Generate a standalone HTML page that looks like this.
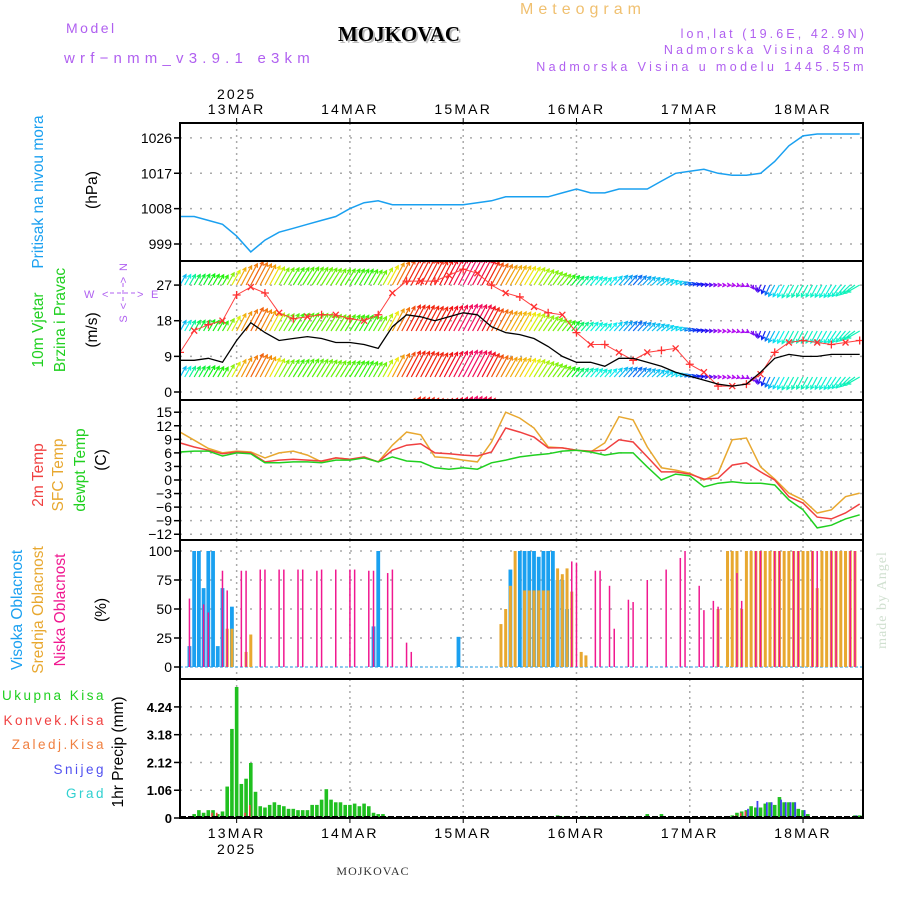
<!DOCTYPE html>
<html><head><meta charset="utf-8"><style>
body{margin:0;background:#fff}
svg{display:block;font-family:"Liberation Sans",sans-serif}
</style></head><body>
<svg id="c" width="900" height="900" viewBox="0 0 900 900" xmlns="http://www.w3.org/2000/svg">
<defs>
<clipPath id="clipAll"><rect x="181" y="123" width="681" height="695"/></clipPath>
<clipPath id="clipWind"><rect x="181" y="262" width="681" height="137"/></clipPath>
</defs>
<g>
<text x="66" y="33" fill="#b060f0" font-size="14" letter-spacing="2.5">Model</text>
<text x="64" y="63" fill="#b060f0" font-size="15" letter-spacing="5.2">wrf−nmm_v3.9.1 e3km</text>
<text x="401" y="43" fill="#bbb" font-size="21" font-weight="bold" font-family="Liberation Serif,serif" text-anchor="middle">MOJKOVAC</text>
<text x="399" y="41" fill="#000" font-size="21" font-weight="bold" font-family="Liberation Serif,serif" text-anchor="middle">MOJKOVAC</text>
<text x="583" y="14" fill="#f0c070" font-size="16" letter-spacing="5" text-anchor="middle">Meteogram</text>
<text x="867" y="38" fill="#b060f0" font-size="12.5" letter-spacing="3.1" text-anchor="end">lon,lat (19.6E, 42.9N)</text>
<text x="867" y="54" fill="#b060f0" font-size="12.5" letter-spacing="3.2" text-anchor="end">Nadmorska Visina 848m</text>
<text x="867" y="71" fill="#b060f0" font-size="12.5" letter-spacing="3.4" text-anchor="end">Nadmorska Visina u modelu 1445.55m</text>
</g>
<g font-size="15.5">
<text transform="translate(43,192) rotate(-90)" fill="#1aa0f0" text-anchor="middle">Pritisak na nivou mora</text>
<text transform="translate(97,190) rotate(-90)" fill="#000" text-anchor="middle">(hPa)</text>
<text transform="translate(43,330) rotate(-90)" fill="#20d020" text-anchor="middle">10m Vjetar</text>
<text transform="translate(65,320) rotate(-90)" fill="#20d020" text-anchor="middle">Brzina i Pravac</text>
<text transform="translate(97,330) rotate(-90)" fill="#000" text-anchor="middle">(m/s)</text>
<g fill="#b060f0" font-size="11">
<text x="84" y="298">W</text><text x="151" y="298">E</text>
<text x="102" y="298">&lt;</text><text x="137" y="298">&gt;</text>
<text transform="translate(127,267) rotate(-90)" text-anchor="middle">N</text>
<text transform="translate(127,280) rotate(-90)" text-anchor="middle">&gt;</text>
<text transform="translate(127,306) rotate(-90)" text-anchor="middle">&lt;</text>
<text transform="translate(127,319) rotate(-90)" text-anchor="middle">S</text>
<line x1="123" y1="283" x2="123" y2="302" stroke="#b060f0" stroke-dasharray="4,3"/>
<line x1="110" y1="293" x2="136" y2="293" stroke="#b060f0" stroke-dasharray="4,3"/>
</g>
<text transform="translate(43,475) rotate(-90)" fill="#f04040" text-anchor="middle">2m Temp</text>
<text transform="translate(63,475) rotate(-90)" fill="#e8a830" text-anchor="middle">SFC Temp</text>
<text transform="translate(85,470) rotate(-90)" fill="#20d020" text-anchor="middle">dewpt Temp</text>
<text transform="translate(106,460) rotate(-90)" fill="#000" text-anchor="middle">(C)</text>
<text transform="translate(22,610) rotate(-90)" fill="#1aa0f0" text-anchor="middle">Visoka Oblacnost</text>
<text transform="translate(43,610) rotate(-90)" fill="#e8a830" text-anchor="middle">Srednja Oblacnost</text>
<text transform="translate(65,610) rotate(-90)" fill="#f01890" text-anchor="middle">Niska Oblacnost</text>
<text transform="translate(106,610) rotate(-90)" fill="#000" text-anchor="middle">(%)</text>
<g font-size="13.5" letter-spacing="2.5" text-anchor="end">
<text x="106" y="700" fill="#20d020">Ukupna Kisa</text>
<text x="106" y="725" fill="#f04040">Konvek.Kisa</text>
<text x="106" y="749" fill="#f08040">Zaledj.Kisa</text>
<text x="106" y="774" fill="#5050f0">Snijeg</text>
<text x="106" y="798" fill="#30d0d0">Grad</text>
</g>
<text transform="translate(123,752) rotate(-90)" fill="#000" text-anchor="middle">1hr Precip (mm)</text>
<text transform="translate(886,600) rotate(-90)" fill="#d0e0d0" font-size="14" font-family="Liberation Serif,serif" text-anchor="middle" letter-spacing="1">made by Angel</text>
<text x="373" y="875" fill="#333" font-size="12" font-family="Liberation Serif,serif" text-anchor="middle" letter-spacing="1">MOJKOVAC</text>
</g>
<g id="grid"></g>
<g id="marks" clip-path="url(#clipAll)"></g>
<g id="frames"></g>
</svg>
<script>
// hours from 12 MAR 12Z, every 3h
const hours3 = [0,3,6,9,12,15,18,21,24,27,30,33,36,39,42,45,48,51,54,57,60,63,66,69,72,75,78,81,84,87,90,93,96,99,102,105,108,111,114,117,120,123,126,129,132,135,138,141,144];
const pressure = [1006,1006,1005,1004,1001,997,1000,1002,1003,1004,1005,1006,1008,1009.5,1010,1009,1009,1009,1009,1009,1009,1009.5,1010,1011,1011,1011,1011,1012,1013,1012,1012,1013,1013,1013,1015,1017,1017.5,1018,1017,1016.5,1016.5,1017,1020,1024,1026.5,1027,1027,1027,1027];
const windSpeed = [8,8,8.5,7.5,13,17.5,15,13,13.5,14,13.5,12.5,12.5,12,11,16.5,19.5,19,18,19,20,19.5,16.5,15,14.5,13.5,11.5,9,7.5,7.5,6.5,8.5,8.5,7.5,6.5,5,4,3,2,1.5,2,5,8.5,9.5,9,9,9.5,9.5,9.5];
const windGust = [10,15.5,17,18,24.5,26.5,25,20,18.5,19,19.5,19.5,18.5,18,19.5,25,28,28,28,29.5,31,30,27,25,24,21.5,20,19.5,15,12,12,10,8,10,10.5,11,7,5,1.5,1.5,2,4.5,10,12.5,13,12.5,12,12.5,13];
const windDir = [60,60,60,60,62,62,62,60,58,58,58,58,58,60,60,62,62,62,62,62,62,62,62,60,60,58,55,52,50,50,48,48,48,45,40,30,15,5,0,-10,-30,-110,-118,-118,-118,-118,-120,-130,-150];
const temp2m = [8.2,7.3,6.6,5.8,6.2,6,4,4.4,4.6,4.4,4.2,4.9,4.6,5.1,4,6.6,7.7,8,6,5.8,5.5,5.3,6.2,11.5,10.6,9.5,7.1,7.1,6.6,6.4,6.6,8.9,8.4,5.1,1.8,1.8,1.3,0.2,0.4,3.3,3.8,1.8,0,-3.7,-5.1,-8.2,-8.6,-7.3,-5.3];
const tempSfc = [10.6,8.8,7,6,6.4,6.2,4.9,6,6.4,5.5,4,4.9,4.6,4.9,4,7.7,10.6,10,5.1,4.9,4.4,4,8.4,15,13.7,11.5,7.3,7.1,6.6,6.2,8.2,14,13.3,7.3,2.7,2.2,1.5,0,1.5,8.9,9.3,2.9,0.2,-2.9,-4.4,-7.3,-6.6,-3.7,-2.9];
const dewpt = [6.2,6.4,6.4,5.3,6,5.8,3.8,3.8,4,4,3.8,4.4,4.4,4.9,4,5.1,4.2,4,2.7,2.4,2.7,2.4,3.8,4.4,5.1,5.5,5.8,6.4,6.6,6.2,5.5,6,6,2.9,0,1.3,0.9,-1.5,-0.7,-0.4,-0.7,-0.7,-1.1,-4.4,-6.6,-10.6,-10,-8.6,-7.7];
// hourly cloud cover [hour, %]
const cloudHighHours = [2,3,4,5,6,7,8,9,11,41,42,59,70,72,73,74,75,76,77,78,79,80,81,82];
const cloudHighVals  = [18,100,100,68,100,100,18,68,52,35,100,26,84,100,100,100,100,95,100,100,100,75,75,50];
const cloudMidHours = [10,11,14,15,68,69,70,71,73,74,75,76,77,78,80,81,82,83,85,86,114,116,117,118,119,120,121,122,123,124,125,126,127,128,129,130,131,132,133,134,135,136,137,138,139,140,141,142,143];
const cloudMidVals  = [33,33,13,28,37,50,70,100,66,66,66,66,66,66,85,80,85,65,13,10,50,100,100,100,50,100,100,100,100,100,100,100,100,100,100,100,100,100,100,100,68,100,100,100,100,100,100,100,100];
const cloudLowHours = [2,5,6,9,10,13,14,17,18,21,22,25,26,29,30,33,36,37,40,41,44,45,48,49,83,84,88,89,91,92,95,96,99,103,106,107,110,111,113,114,118,119,122,123,126,127,130,131,134,135,138,139,142,143];
const cloudLowVals  = [59,54,47,83,66,83,83,84,84,84,84,84,84,83,84,84,84,84,83,83,81,84,21,13,91,90,83,83,70,33,58,56,75,84,94,100,70,49,57,52,81,57,100,100,100,100,100,100,100,100,100,100,100,100];
// hourly precipitation (mm)
const precipHours = [3,4,5,6,7,8,9,10,11,12,13,14,15,16,17,18,19,20,21,22,23,24,25,26,27,28,29,30,31,32,33,34,35,36,37,38,39,40,41,42,43,44,80,81,85,86,95,99,102,117,118,119,120,121,122,123,124,125,126,127,128,129,130,131,132,133,143,144];
const precipTotal = [0.15,0.3,0.2,0.3,0.3,0.15,0.25,1.2,3.4,5.0,1.3,1.5,2.1,1.0,0.45,0.4,0.5,0.6,0.5,0.45,0.35,0.35,0.3,0.3,0.3,0.5,0.5,0.7,1.1,0.7,0.6,0.6,0.5,0.5,0.55,0.45,0.55,0.45,0.2,0.15,0.15,0.05,0.1,0.05,0.05,0.05,0.05,0.15,0.15,0.1,0.2,0.25,0.3,0.45,0.4,0.4,0.55,0.6,0.5,0.8,0.6,0.6,0.6,0.35,0.3,0.15,0.1,0.1];
const convHours = [7,8,14,15,118,119,120];
const convVals  = [0.2,0.2,0.2,0.5,0.1,0.2,0.25];
const snowHours = [120,122,124,125,127,128,129,130,132,143];
const snowVals  = [0.35,0.65,0.6,0.6,0.7,0.6,0.6,0.6,0.3,0.1];
// ticks
const dayLabels = ['13MAR','14MAR','15MAR','16MAR','17MAR','18MAR'];
const dayHours = [12,36,60,84,108,132];
const pTicks = [999,1008,1017,1026];
const wTicks = [0,9,18,27];
const tTicks = [-12,-9,-6,-3,0,3,6,9,12,15];
const cTicks = [0,25,50,75,100];
const rTicks = [0,1.06,2.12,3.18,4.24];

const NS='http://www.w3.org/2000/svg';
const L=180,R=863;
const X=h=>L+h*4.72;
const yP=v=>244-(v-999)*3.93;
const yW=v=>392-v*3.96;
const yT=v=>480-v*4.52;
const yC=v=>667-v*1.16;
const yR=v=>818-v*26.2;
function el(tag,attrs,parent){const e=document.createElementNS(NS,tag);for(const k in attrs)e.setAttribute(k,attrs[k]);parent.appendChild(e);return e;}
const grid=document.getElementById('grid'),marks=document.getElementById('marks'),frames=document.getElementById('frames');
const panels=[[123,261,yP,pTicks,'pressure',v=>String(v)],[261,400,yW,wTicks,'wind',v=>String(v)],[400,540,yT,tTicks,'temp',v=>String(v).replace('-','−')],[540,679,yC,cTicks,'cloud',v=>String(v)],[679,818,yR,rTicks,'precip',v=>String(v)]];
panels.forEach(p=>{
  const [t,b,sc,ticks,nm,fmt]=p;
  dayHours.forEach(h=>{const ln=el('line',{x1:X(h),x2:X(h),y1:t,y2:b,stroke:'#aaa','stroke-width':1.5,'stroke-dasharray':'2,4'},grid);
    
    });
  ticks.forEach(v=>{const y=sc(v);
    const g=el('line',{x1:L,x2:R,y1:y,y2:y,stroke:'#aaa','stroke-width':1.5,'stroke-dasharray':'2,8'},grid);
    
    
    el('line',{x1:L-6,x2:L,y1:y,y2:y,stroke:'#000','stroke-width':1.5},grid);
    const tx=el('text',{x:L-8,y:y+5,'text-anchor':'end','font-size':nm==='precip'?13:14,'font-weight':nm==='precip'?'bold':'normal',fill:'#000'},grid);
    tx.textContent=fmt(v);
    
    });
  const fr=el('rect',{x:L,y:t,width:R-L,height:b-t,fill:'none',stroke:'#000','stroke-width':2},frames);
  
  
});
dayHours.forEach((h,i)=>{
  el('line',{x1:X(h),x2:X(h),y1:118,y2:123,stroke:'#000'},frames);
  el('line',{x1:X(h),x2:X(h),y1:818,y2:823,stroke:'#000'},frames);
  const a=el('text',{x:X(h),y:114,'text-anchor':'middle','font-size':14,'letter-spacing':2.2},frames);a.textContent=dayLabels[i];
  
  
  const b=el('text',{x:X(h),y:838,'text-anchor':'middle','font-size':14,'letter-spacing':2.2},frames);b.textContent=dayLabels[i];
  
  
});
const y1=el('text',{x:X(12),y:99,'text-anchor':'middle','font-size':14,'letter-spacing':2},frames);y1.textContent='2025';


const y2=el('text',{x:X(12),y:854,'text-anchor':'middle','font-size':14,'letter-spacing':2},frames);y2.textContent='2025';



function line(vals,sc,color,name,w){
  const d=vals.map((v,i)=>(i?'L':'M')+X(hours3[i]).toFixed(1)+','+sc(v).toFixed(1)).join('');
  const p=el('path',{d:d,fill:'none',stroke:color,'stroke-width':w||1.5},marks);
  
  
  return p;
}
line(pressure,yP,'#1aa0f0','pressure-line');
function interp(arr,h){const i=Math.min(Math.floor(h/3),arr.length-2);const f=(h-i*3)/3;return arr[i]*(1-f)+arr[i+1]*f;}
const windG=el('g',{'clip-path':'url(#clipWind)'},marks);


[285,331,377,423].forEach(rowY=>{
  for(let h=0;h<=144;h++){
    const sp=interp(windSpeed,h),gu=interp(windGust,h),dir=interp(windDir,h)*Math.PI/180;
    let hue=300-gu*10.5; if(hue<0)hue+=360;
    const col='hsl('+hue.toFixed(0)+',90%,50%)';
    const len=Math.max(3,sp*1.5);
    const x0=X(h),y0=rowY,x1=x0+Math.cos(dir)*len,y1=y0-Math.sin(dir)*len;
    const a=el('path',{d:'M'+x0.toFixed(1)+','+y0+'L'+x1.toFixed(1)+','+y1.toFixed(1)+
      'M'+(x1-Math.cos(dir-0.5)*4).toFixed(1)+','+(y1+Math.sin(dir-0.5)*4).toFixed(1)+'L'+x1.toFixed(1)+','+y1.toFixed(1)+
      'L'+(x1-Math.cos(dir+0.5)*4).toFixed(1)+','+(y1+Math.sin(dir+0.5)*4).toFixed(1),stroke:col,'stroke-width':1.2,fill:'none'},windG);
    
    
  }
});
line(windGust,yW,'#ff4040','wind-gust-line',1);
windGust.forEach((v,i)=>{const x=X(hours3[i]),y=yW(v);
  const m=el('path',{d:i%2?`M${x-3},${y-3}L${x+3},${y+3}M${x-3},${y+3}L${x+3},${y-3}`:`M${x-4},${y}L${x+4},${y}M${x},${y-4}L${x},${y+4}`,stroke:'#ff3030','stroke-width':1.3},marks);
  
  });
line(windSpeed,yW,'#000','wind-speed-line',1.3);
line(tempSfc,yT,'#e8a830','sfc-temp-line');
line(temp2m,yT,'#f04040','temp-2m-line');
line(dewpt,yT,'#20d020','dewpt-line');
const base=el('line',{x1:L,x2:R,y1:667,y2:667,stroke:'#70c0f0','stroke-width':1.5,'stroke-dasharray':'3,2'},marks);


function bars(hrs,vals,sc,zero,color,w,off,name){
  hrs.forEach((h,i)=>{const y=sc(vals[i]);
    const r=el('rect',{x:X(h)+off-w/2,y:y,width:w,height:Math.max(0,zero-y),fill:color},marks);
    
    });
}
bars(cloudHighHours,cloudHighVals,yC,667,'#1aa0f0',3.8,0,'high-cloud-bar');
bars(cloudMidHours,cloudMidVals,yC,667,'#e8a830',3,0,'mid-cloud-bar');
bars(cloudLowHours,cloudLowVals,yC,667,'#f01890',1.5,0,'low-cloud-bar');
bars(precipHours,precipTotal,yR,818,'#20c020',3.6,0,'precip-total-bar');
bars(convHours,convVals,yR,818,'#f04040',1.6,-1,'precip-conv-bar');
bars(snowHours,snowVals,yR,818,'#4040f0',1.8,1.6,'precip-snow-bar');
const pb=el('line',{x1:L,x2:R,y1:817,y2:817,stroke:'#000','stroke-width':2,'stroke-dasharray':'6,2'},marks);


</script>
</body></html>
